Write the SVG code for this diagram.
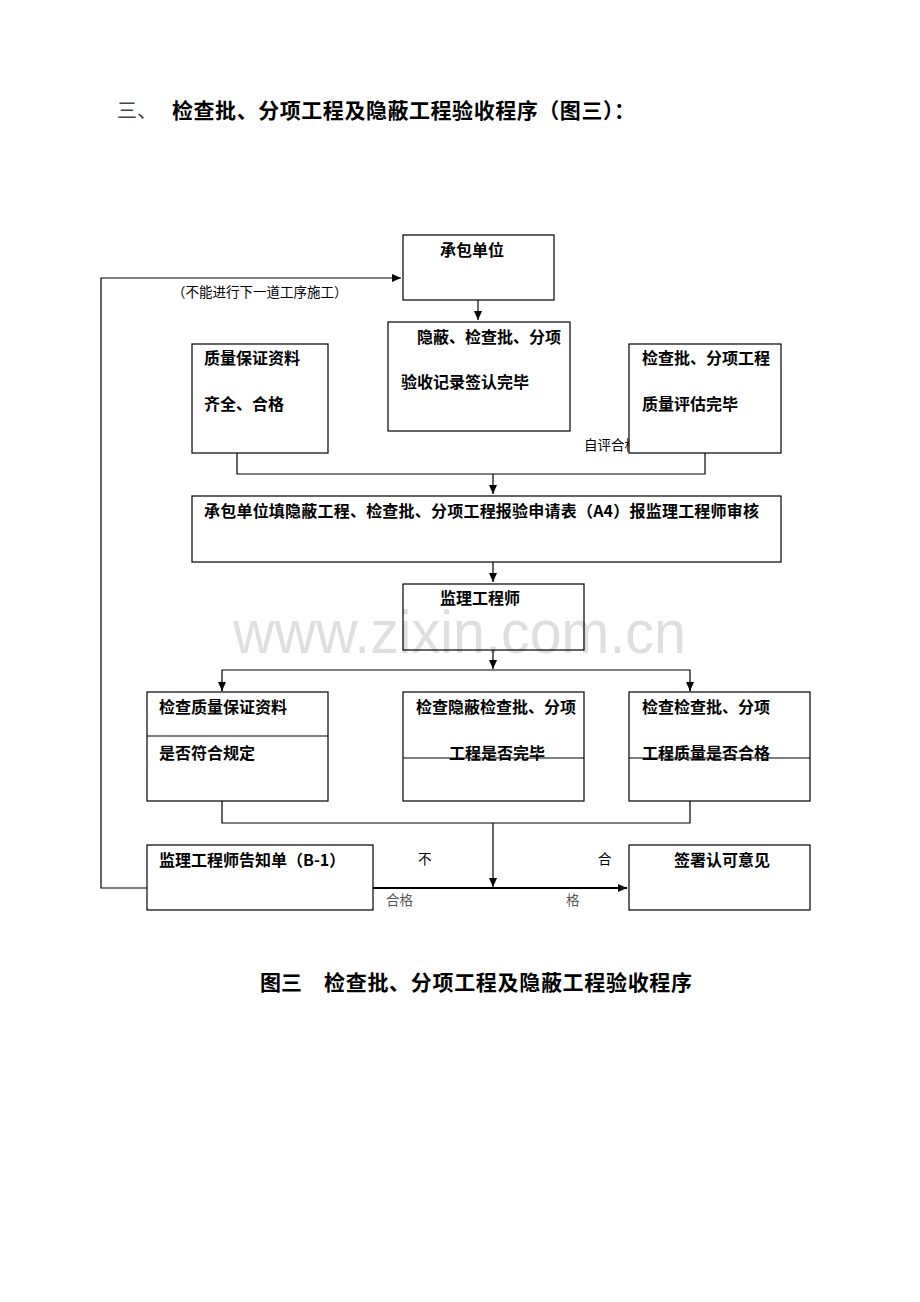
<svg xmlns="http://www.w3.org/2000/svg" width="920" height="1302" viewBox="0 0 920 1302">
<style>
text{font-family:"Noto Sans CJK SC","Liberation Sans",sans-serif;fill:#000}
.t{font-size:16px;font-weight:bold}
.s{font-size:13.5px}
.l{font-size:13.5px;fill:#555}
.h{font-size:21px;font-weight:bold}
.box{fill:#fff;stroke:#000;stroke-width:1.2}
.ln{fill:none;stroke:#000;stroke-width:1.2}
</style>
<defs>
<marker id="ar" markerWidth="10" markerHeight="10" refX="9" refY="5" orient="auto" markerUnits="userSpaceOnUse">
<path d="M0,1 L9,5 L0,9 Z" fill="#000"/>
</marker>
</defs>
<rect width="920" height="1302" fill="#fff"/>
<text x="117" y="118" style="font-size:20px;fill:#444">三、</text>
<text x="172" y="118" class="h" textLength="463">检查批、分项工程及隐蔽工程验收程序（图三）：</text>

<g id="connectors">
<polyline class="ln" points="147,888 101,888 101,278 401,278" marker-end="url(#ar)"/>
<line class="ln" x1="478" y1="300" x2="478" y2="320" marker-end="url(#ar)"/>
<polyline class="ln" points="237,453 237,474 705,474 705,453"/>
<line class="ln" x1="493" y1="474" x2="493" y2="494" marker-end="url(#ar)"/>
<line class="ln" x1="493" y1="562" x2="493" y2="582" marker-end="url(#ar)"/>
<line class="ln" x1="493" y1="650" x2="493" y2="669" marker-end="url(#ar)"/>
<polyline class="ln" points="222,691 222,670 690,670 690,691"/>
<line class="ln" x1="222" y1="682" x2="222" y2="691" marker-end="url(#ar)"/>
<line class="ln" x1="690" y1="682" x2="690" y2="691" marker-end="url(#ar)"/>
<polyline class="ln" points="222,801 222,823 690,823 690,801"/>
<line class="ln" x1="493" y1="823" x2="493" y2="887" marker-end="url(#ar)"/>
<line x1="373" y1="888" x2="627" y2="888" stroke="#000" stroke-width="2" marker-end="url(#ar)"/>
<text x="172" y="297" class="s">（不能进行下一道工序施工）</text>
<text x="584" y="450" class="s">自评合格</text>
<text x="418" y="864" class="s">不</text>
<text x="598" y="864" class="s">合</text>
<text x="386" y="905" class="l">合格</text>
<text x="566" y="905" class="l">格</text>
</g>

<g id="n1"><rect class="box" x="403" y="235" width="151" height="65"/><text x="440" y="256" class="t">承包单位</text></g>
<g id="n2"><rect class="box" x="388" y="322" width="182" height="109"/><text x="417" y="343" class="t">隐蔽、检查批、分项</text><text x="401" y="388" class="t">验收记录签认完毕</text></g>
<g id="n3"><rect class="box" x="192" y="344" width="136" height="109"/><text x="204" y="364" class="t">质量保证资料</text><text x="204" y="410" class="t">齐全、合格</text></g>
<g id="n4"><rect class="box" x="629" y="344" width="152" height="109"/><text x="642" y="364" class="t">检查批、分项工程</text><text x="642" y="410" class="t">质量评估完毕</text></g>
<g id="n5"><rect class="box" x="192" y="496" width="589" height="66"/><text x="204" y="517" class="t" textLength="555">承包单位填隐蔽工程、检查批、分项工程报验申请表（A4）报监理工程师审核</text></g>
<g id="n6"><rect class="box" x="403" y="584" width="181" height="66"/><text x="440" y="604" class="t">监理工程师</text></g>
<g id="n7"><rect class="box" x="147" y="692" width="181" height="109"/><line class="ln" x1="147" y1="736" x2="328" y2="736"/><text x="159" y="713" class="t">检查质量保证资料</text><text x="159" y="759" class="t">是否符合规定</text></g>
<g id="n8"><rect class="box" x="403" y="692" width="181" height="109"/><text x="416" y="713" class="t">检查隐蔽检查批、分项</text><text x="449" y="759" class="t">工程是否完毕</text><line class="ln" x1="403" y1="758" x2="584" y2="758"/></g>
<g id="n9"><rect class="box" x="629" y="692" width="181" height="109"/><text x="642" y="713" class="t">检查检查批、分项</text><text x="642" y="759" class="t">工程质量是否合格</text><line class="ln" x1="629" y1="758" x2="810" y2="758"/></g>
<g id="n10"><rect class="box" x="147" y="845" width="226" height="65"/><text x="159" y="866" class="t">监理工程师告知单（B-1）</text></g>
<g id="n11"><rect class="box" x="629" y="845" width="181" height="65"/><text x="674" y="866" class="t">签署认可意见</text></g>

<text x="260" y="990" class="h">图三</text>
<text x="324" y="990" class="h" textLength="368">检查批、分项工程及隐蔽工程验收程序</text>

<text x="233" y="653" textLength="453" lengthAdjust="spacingAndGlyphs" style="font-family:'Liberation Sans Narrow','Liberation Sans',sans-serif;font-size:62px;fill:#000;opacity:0.12">www.zixin.com.cn</text>
</svg>
